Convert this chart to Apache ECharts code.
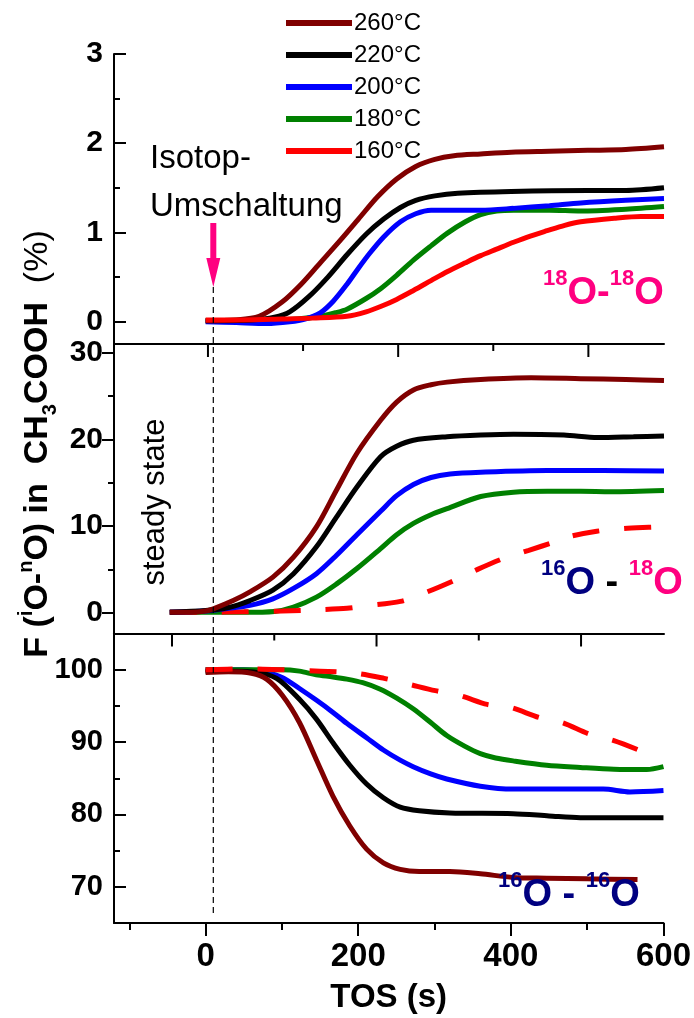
<!DOCTYPE html>
<html>
<head>
<meta charset="utf-8">
<script src="https://cdn.jsdelivr.net/npm/echarts@6/dist/echarts.min.js"></script>
<style>
  html, body { margin: 0; padding: 0; background: #fff; }
  #chart { width: 694px; height: 1018px; }
</style>
</head>
<body>
<div id="chart"></div>
<script>
// ---- series names and colours ----
const TEMPS = ['260°C', '220°C', '200°C', '180°C', '160°C'];
const TEMP_COLORS = ['#800000', '#000000', '#0000FF', '#008000', '#FF0000'];

// ---- axis ticks ----
const TOS_MIN = -120, TOS_MAX = 600;
const X_MAJOR = [0, 200, 400, 600];
const X_MINOR = [-100, 100, 300, 500];
const Y_TOP_MAJOR = [0, 1, 2, 3],      Y_TOP_MINOR = [0.5, 1.5, 2.5];
const Y_MID_MAJOR = [0, 10, 20, 30],   Y_MID_MINOR = [5, 15, 25];
const Y_BOT_MAJOR = [70, 80, 90, 100], Y_BOT_MINOR = [75, 85, 95];
// tick marks on the separator lines between panels (TOS, s)
const SEP_MID_MAJOR = [3, 252, 501],   SEP_MID_MINOR = [127.5, 376.5];
const SEP_BOT_MAJOR = [-44, 224, 492], SEP_BOT_MINOR = [90, 358];
const SWITCH_TOS = 10;   // isotope switch time (s)

// ---- 18O-18O fraction (%), [TOS s, value] ----
const o1818_260 = [[0,0.01],[40,0.02],[70,0.06],[100,0.22],[125,0.42],[150,0.66],[175,0.9],[200,1.15],[225,1.4],[250,1.6],[275,1.74],[300,1.82],[325,1.86],[360,1.88],[400,1.9],[450,1.91],[500,1.92],[550,1.93],[600,1.96]];
const o1818_220 = [[0,0.01],[60,0.02],[90,0.05],[110,0.11],[135,0.28],[160,0.5],[185,0.75],[210,0.98],[233,1.15],[255,1.28],[275,1.36],[300,1.41],[330,1.44],[400,1.46],[500,1.47],[550,1.47],[600,1.5]];
const o1818_200 = [[0,0.0],[40,-0.01],[80,-0.02],[110,0],[130,0.03],[150,0.1],[167,0.23],[185,0.42],[200,0.6],[215,0.77],[233,0.95],[255,1.12],[275,1.21],[295,1.25],[316,1.25],[360,1.25],[403,1.27],[450,1.3],[491,1.33],[550,1.36],[600,1.38]];
const o1818_180 = [[0,0.01],[80,0.02],[120,0.03],[150,0.06],[170,0.1],[185,0.14],[210,0.26],[229,0.37],[250,0.52],[272,0.69],[295,0.85],[316,0.99],[340,1.12],[360,1.2],[381,1.24],[403,1.25],[450,1.25],[491,1.24],[550,1.26],[600,1.29]];
const o1818_160 = [[0,0.02],[50,0.02],[100,0.03],[140,0.04],[185,0.06],[210,0.11],[229,0.17],[250,0.25],[272,0.35],[295,0.46],[316,0.56],[340,0.66],[360,0.74],[380,0.81],[403,0.89],[425,0.96],[447,1.02],[470,1.08],[491,1.12],[535,1.16],[570,1.18],[600,1.18]];

// ---- 16O-18O fraction (%) ----
const o1618_260 = [[-47,0.05],[-20,0.05],[0,0.2],[10,0.45],[36,1.4],[58,2.4],[88,4.1],[115,6.4],[145,9.9],[171,14.1],[198,18.4],[229,22.2],[250,24.3],[272,25.7],[295,26.3],[316,26.6],[360,26.9],[426,27.1],[491,27.0],[550,26.9],[600,26.8]];
const o1618_220 = [[-47,0.05],[0,0.25],[30,0.6],[58,1.4],[88,2.6],[115,4.5],[145,7.6],[171,11.0],[198,14.5],[229,18.0],[250,19.2],[272,19.9],[316,20.3],[360,20.5],[403,20.6],[469,20.5],[513,20.2],[560,20.3],[600,20.4]];
const o1618_200 = [[-47,0.05],[0,0.2],[30,0.5],[58,0.85],[88,1.6],[115,2.8],[145,4.5],[171,6.6],[198,9.0],[229,11.7],[250,13.5],[272,14.8],[295,15.6],[320,16.0],[360,16.2],[447,16.4],[520,16.4],[600,16.35]];
const o1618_180 = [[-47,0.05],[0,0.05],[50,0.05],[90,0.15],[115,0.65],[145,1.8],[171,3.3],[198,5.1],[229,7.4],[250,9.0],[272,10.3],[295,11.3],[316,12.0],[360,13.4],[403,13.9],[447,14.0],[491,14.0],[530,13.95],[600,14.1]];
const o1618_160 = [[-47,0.05],[0,0.05],[50,0.1],[100,0.2],[150,0.35],[185,0.5],[211,0.8],[255,1.3],[290,2.4],[325,3.7],[356,5.0],[391,6.3],[423,7.2],[458,8.2],[477,8.8],[512,9.4],[545,9.7],[580,9.85],[597,9.9]];

// ---- 16O-16O fraction (%) ----
const o1616_260 = [[0,99.6],[30,99.7],[60,99.5],[80,98.7],[101,96.4],[123,92.7],[145,87.6],[167,82.5],[189,78.4],[211,75.2],[233,73.3],[255,72.4],[280,72.1],[320,72.1],[360,71.8],[403,71.3],[447,71.2],[500,71.1],[566,71.0]];
const o1616_220 = [[0,99.8],[40,99.8],[63,99.7],[93,98.8],[123,95.9],[145,93.2],[167,89.9],[189,86.8],[211,84.2],[233,82.3],[255,81.0],[280,80.5],[320,80.2],[403,80.1],[450,79.8],[491,79.55],[600,79.55]];
const o1616_200 = [[0,100],[50,100],[80,99.6],[101,98.9],[123,97.4],[145,95.8],[167,94.1],[185,92.6],[211,90.6],[233,88.9],[255,87.5],[272,86.6],[295,85.6],[316,84.9],[360,83.9],[403,83.5],[447,83.5],[521,83.5],[556,83.1],[600,83.3]];
const o1616_180 = [[0,100],[50,100],[100,100],[123,99.8],[145,99.3],[167,99.0],[185,98.7],[206,98.2],[229,97.3],[250,96.1],[272,94.6],[295,92.7],[316,90.9],[340,89.4],[360,88.4],[380,87.8],[403,87.4],[447,86.8],[491,86.5],[535,86.25],[578,86.2],[600,86.6]];
const o1616_160 = [[0,100],[50,100.1],[100,100],[150,99.8],[198,99.5],[234,98.8],[266,98.0],[301,97.1],[334,96.4],[369,95.2],[399,94.8],[437,93.4],[467,92.7],[503,91.1],[535,90.2],[570,88.8]];

// ---------------------------------------------------------------
const FONT = '"Liberation Sans", Arial, Helvetica, sans-serif';
const PINK = '#FF0080', NAVY = '#000080';

const panels = [
  { grid: { left: 114, right: 30, top: 54, height: 290 },
    yMin: -0.25, yMax: 3, major: Y_TOP_MAJOR, minor: Y_TOP_MINOR, labelSize: 30, ticksInside: true,
    series: { '260°C': o1818_260, '220°C': o1818_220, '200°C': o1818_200, '180°C': o1818_180, '160°C': o1818_160 },
    order: ['180°C', '200°C', '220°C', '260°C', '160°C'], dashed: [] },
  { grid: { left: 114, right: 30, top: 344, height: 289.5 },
    yMin: -2.4, yMax: 31, major: Y_MID_MAJOR, minor: Y_MID_MINOR, labelSize: 30, ticksInside: false,
    series: { '260°C': o1618_260, '220°C': o1618_220, '200°C': o1618_200, '180°C': o1618_180, '160°C': o1618_160 },
    order: ['180°C', '160°C', '200°C', '220°C', '260°C'], dashed: ['160°C'] },
  { grid: { left: 114, right: 30, top: 633.5, height: 289.5 },
    yMin: 65, yMax: 105, major: Y_BOT_MAJOR, minor: Y_BOT_MINOR, labelSize: 29, ticksInside: true,
    series: { '260°C': o1616_260, '220°C': o1616_220, '200°C': o1616_200, '180°C': o1616_180, '160°C': o1616_160 },
    order: ['200°C', '180°C', '220°C', '260°C', '160°C'], dashed: ['160°C'] }
];

const axisLine = { show: true, onZero: false, lineStyle: { color: '#000', width: 2 } };
const noLine = { show: false, onZero: false };
const tickLine = { color: '#000', width: 2 };

const grids = panels.map(p => p.grid);

// x axes: 0..2 carry the data, 3 = minor ticks of the TOS axis,
// 4/5 = separator lines between panels
const xAxes = panels.map((p, i) => {
  const base = { type: 'value', gridIndex: i, min: TOS_MIN, max: TOS_MAX, position: 'bottom', splitLine: { show: false } };
  if (i < 2) return Object.assign(base, { show: false, axisLine: noLine });
  return Object.assign(base, {
    axisLine,
    axisTick: { show: true, inside: false, length: 13, lineStyle: tickLine, customValues: X_MAJOR },
    axisLabel: { show: true, customValues: X_MAJOR, margin: 17, color: '#000', fontSize: 33, fontWeight: 'bold', fontFamily: FONT },
    name: 'TOS (s)', nameLocation: 'middle', nameGap: 58,
    nameTextStyle: { color: '#000', fontSize: 33, fontWeight: 'bold', fontFamily: FONT }
  });
});
xAxes.push({
  type: 'value', gridIndex: 2, min: TOS_MIN, max: TOS_MAX, position: 'bottom',
  axisLine: noLine,
  axisTick: { show: true, inside: false, length: 7, lineStyle: tickLine, customValues: X_MINOR },
  axisLabel: { show: false }, splitLine: { show: false }
});
[0, 1].forEach(g => {
  xAxes.push({
    type: 'value', gridIndex: g, min: TOS_MIN, max: TOS_MAX, position: 'bottom',
    axisLine, axisTick: { show: false }, axisLabel: { show: false }, splitLine: { show: false }
  });
});

// y axes: 0..2 labelled, 3..5 minor ticks
const yAxes = panels.map((p, i) => ({
  type: 'value', gridIndex: i, min: p.yMin, max: p.yMax, position: 'left',
  axisLine,
  axisTick: { show: true, inside: p.ticksInside, length: 12, lineStyle: tickLine, customValues: p.major },
  axisLabel: { show: true, customValues: p.major, margin: 11, color: '#000', fontSize: p.labelSize, fontWeight: 'bold', fontFamily: FONT },
  splitLine: { show: false }
})).concat(panels.map((p, i) => ({
  type: 'value', gridIndex: i, min: p.yMin, max: p.yMax, position: 'left',
  axisLine: noLine,
  axisTick: { show: true, inside: p.ticksInside, length: 6, lineStyle: tickLine, customValues: p.minor },
  axisLabel: { show: false }, splitLine: { show: false }
})));

const series = [];
panels.forEach((p, i) => {
  p.order.forEach((name, k) => {
    const color = TEMP_COLORS[TEMPS.indexOf(name)];
    series.push({
      type: 'line', name, xAxisIndex: i, yAxisIndex: i,
      data: p.series[name],
      symbol: 'none', showSymbol: false, smooth: 0.3,
      z: 2 + k,
      itemStyle: { color },
      lineStyle: { color, width: 5, type: p.dashed.includes(name) ? [27, 25] : 'solid', cap: 'butt' },
      emphasis: { disabled: true }, silent: true
    });
  });
});

const chart = echarts.init(document.getElementById('chart'), null, { renderer: 'canvas' });
chart.setOption({
  animation: false,
  backgroundColor: '#fff',
  grid: grids,
  xAxis: xAxes,
  yAxis: yAxes,
  legend: {
    data: TEMPS, orient: 'vertical', left: 281, top: 6,
    icon: 'rect', itemWidth: 66, itemHeight: 6, itemGap: 8,
    selectedMode: false,
    textStyle: { color: '#000', fontSize: 24, fontFamily: FONT, padding: [0, 0, 0, -3] }
  },
  series
});

// ---- annotations ----
const xs = chart.convertToPixel({ xAxisIndex: 0 }, SWITCH_TOS);
const supStyle = (c) => ({ fill: c, fontSize: 22, fontWeight: 'bold', fontFamily: FONT, lineHeight: 22, verticalAlign: 'top' });
const bigStyle = (c) => ({ fill: c, fontSize: 38, fontWeight: 'bold', fontFamily: FONT, lineHeight: 52, verticalAlign: 'middle' });

function isoLabel(x, y, text, rich) {
  return { type: 'text', x, y, z: 100, silent: true,
    style: { text, rich, align: 'left', verticalAlign: 'middle' } };
}

// short ticks hanging from a separator line into the panel below it
function separatorTicks(ticks, panelIndex, len) {
  const y0 = chart.convertToPixel({ yAxisIndex: panelIndex }, panels[panelIndex].yMax);
  return ticks.map(v => {
    const x = chart.convertToPixel({ xAxisIndex: panelIndex }, v);
    return { type: 'line', silent: true, z: 40,
      shape: { x1: x, y1: y0, x2: x, y2: y0 + len },
      style: { stroke: '#000', lineWidth: 2 } };
  });
}

chart.setOption({
  graphic: [
    ...separatorTicks(SEP_MID_MAJOR, 1, 13),
    ...separatorTicks(SEP_MID_MINOR, 1, 7),
    ...separatorTicks(SEP_BOT_MAJOR, 2, 13),
    ...separatorTicks(SEP_BOT_MINOR, 2, 7),
    // switch marker: dashed line through all panels
    { type: 'line', silent: true, z: 50,
      shape: { x1: xs, y1: 287, x2: xs, y2: 916 },
      style: { stroke: '#000', lineWidth: 1.2, lineDash: [6, 4] } },
    // arrow
    { type: 'polygon', silent: true, z: 50,
      shape: { points: [[xs - 3, 223], [xs + 3, 223], [xs + 3, 258], [xs + 7, 258], [xs, 287], [xs - 7, 258], [xs - 3, 258]] },
      style: { fill: PINK } },
    { type: 'text', x: 150, y: 159, silent: true,
      style: { text: 'Isotop-', fill: '#000', fontSize: 33, fontFamily: FONT, verticalAlign: 'middle' } },
    { type: 'text', x: 150, y: 207, silent: true,
      style: { text: 'Umschaltung', fill: '#000', fontSize: 33, fontFamily: FONT, verticalAlign: 'middle' } },
    { type: 'text', x: 155, y: 502, rotation: Math.PI / 2, silent: true,
      style: { text: 'steady state', fill: '#000', fontSize: 31, fontFamily: FONT, align: 'center', verticalAlign: 'middle' } },
    // y axis title
    { type: 'text', x: 38, y: 444, rotation: Math.PI / 2, silent: true,
      style: {
        text: '{b|F (}{sup|i}{b|O-}{sup|n}{b|O) in  CH}{sub|3}{b|COOH  }{n|(%)}',
        align: 'center', verticalAlign: 'middle',
        rich: {
          b: { fill: '#000', fontSize: 34, fontWeight: 'bold', fontFamily: FONT, lineHeight: 44, verticalAlign: 'middle' },
          n: { fill: '#000', fontSize: 34, fontFamily: FONT, lineHeight: 44, verticalAlign: 'middle' },
          sup: { fill: '#000', fontSize: 20, fontWeight: 'bold', fontFamily: FONT, lineHeight: 20, verticalAlign: 'top' },
          sub: { fill: '#000', fontSize: 20, fontWeight: 'bold', fontFamily: FONT, lineHeight: 20, verticalAlign: 'bottom' }
        }
      } },
    isoLabel(543, 294, '{s|18}{o|O-}{s|18}{o|O}', { s: supStyle(PINK), o: bigStyle(PINK) }),
    isoLabel(541, 584, '{a|16}{A|O}{d| - }{b|18}{B|O}',
      { a: supStyle(NAVY), A: bigStyle(NAVY), d: bigStyle('#000'), b: supStyle(PINK), B: bigStyle(PINK) }),
    isoLabel(498, 896, '{a|16}{A|O - }{a|16}{A|O}', { a: supStyle(NAVY), A: bigStyle(NAVY) })
  ]
});
</script>
</body>
</html>
